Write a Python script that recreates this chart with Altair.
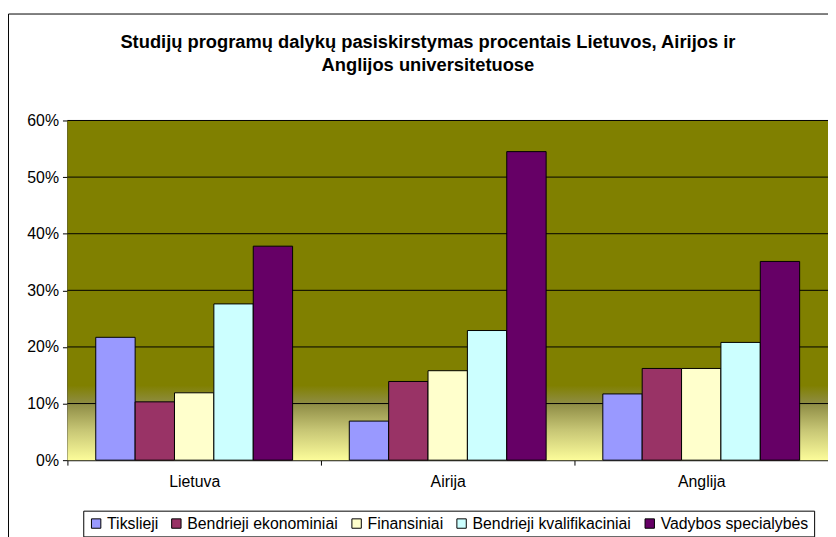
import altair as alt
import pandas as pd

title_lines = ["Studijų programų dalykų pasiskirstymas procentais Lietuvos, Airijos ir",
               "Anglijos universitetuose"]
countries = ["Lietuva", "Airija", "Anglija"]
series = ["Tikslieji", "Bendrieji ekonominiai", "Finansiniai",
          "Bendrieji kvalifikaciniai", "Vadybos specialybės"]
colors = ["#9999FF", "#993366", "#FFFFCC", "#CCFFFF", "#660066"]
lietuva = [0.217, 0.103, 0.119, 0.276, 0.378]
airija = [0.069, 0.139, 0.158, 0.229, 0.545]
anglija = [0.117, 0.162, 0.162, 0.208, 0.351]
y_ticks = [0.0, 0.1, 0.2, 0.3, 0.4, 0.5, 0.6]

rows = []
for c, vals in zip(countries, [lietuva, airija, anglija]):
    for s, v in zip(series, vals):
        rows.append({"country": c, "series": s, "value": v})
df = pd.DataFrame(rows)
grid_df = pd.DataFrame({"v": y_ticks[1:]})

W, H = 768, 343
FONT = "Liberation Sans"

grad = alt.LinearGradient(
    gradient="linear",
    stops=[
        alt.GradientStop(color="#808000", offset=0),
        alt.GradientStop(color="#808000", offset=0.78),
        alt.GradientStop(color="#8F8D46", offset=0.835),
        alt.GradientStop(color="#C6C574", offset=0.91),
        alt.GradientStop(color="#FCFC9A", offset=1),
    ],
    x1=0, x2=0, y1=0, y2=1,
)

bg = alt.Chart(pd.DataFrame({"a": [0]})).mark_rect(color=grad).encode(
    x=alt.value(0), x2=alt.value(W), y=alt.value(0), y2=alt.value(H)
)

yscale = alt.Scale(domain=[0, 0.6])

grid = alt.Chart(grid_df).mark_rule(color="black", strokeWidth=1).encode(
    y=alt.Y("v:Q", scale=yscale),
    x=alt.value(0), x2=alt.value(W),
)

border = alt.Chart(pd.DataFrame({"a": [0]})).mark_rule(color="black", strokeWidth=1).encode(
    x=alt.value(-59.5), y=alt.value(-107.5), y2=alt.value(460)
)
border_top = alt.Chart(pd.DataFrame({"a": [0]})).mark_rule(color="black", strokeWidth=1).encode(
    x=alt.value(-59.5), x2=alt.value(W + 10), y=alt.value(-107.5)
)

bars = alt.Chart(df).mark_bar(stroke="black", strokeWidth=1).encode(
    x=alt.X("country:N", sort=countries,
            scale=alt.Scale(paddingInner=0, paddingOuter=0),
            axis=alt.Axis(title=None, labelAngle=0, tickBand="extent",
                          domainColor="black", tickColor="black", tickSize=5,
                          labelFontSize=16, labelFont=FONT, labelColor="black",
                          labelPadding=9, grid=False)),
    xOffset=alt.XOffset("series:N", sort=series,
                        scale=alt.Scale(paddingInner=0, paddingOuter=0.72)),
    y=alt.Y("value:Q", scale=yscale,
            axis=alt.Axis(title=None, format=".0%", values=y_ticks, grid=False,
                          domainColor="black", tickColor="black", tickSize=5,
                          labelFontSize=16, labelFont=FONT, labelColor="black",
                          labelPadding=4)),
    color=alt.Color("series:N", sort=series,
                    scale=alt.Scale(domain=series, range=colors),
                    legend=alt.Legend(title=None, orient="none", direction="horizontal",
                                      legendX=16, legendY=394,
                                      strokeColor="black", fillColor="white", padding=5,
                                      symbolType="square", symbolSize=90,
                                      symbolStrokeColor="black", symbolStrokeWidth=1,
                                      labelFontSize=16, labelFont=FONT, labelColor="black",
                                      labelLimit=400, columnPadding=10, labelOffset=3)),
)

chart = alt.layer(bg, grid, bars, border, border_top).properties(
    width=W, height=H,
    padding={"left": 60, "top": 111, "right": 0, "bottom": 75},
    autosize=alt.AutoSizeParams(type="none"),
    title=alt.TitleParams(text=title_lines, fontSize=18.5, font=FONT, fontWeight="bold",
                          color="black", anchor="middle", dx=-20, dy=66, lineHeight=24),
).configure_view(stroke="#808080", strokeWidth=1)

chart.save("out.html", embed_options={"renderer": "svg", "actions": False})
